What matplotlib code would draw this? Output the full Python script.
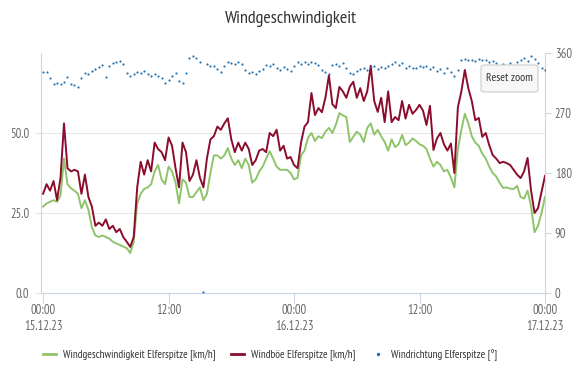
import numpy as np
import matplotlib
matplotlib.use("Agg")
import matplotlib.pyplot as plt
from matplotlib.lines import Line2D
from matplotlib.patches import FancyBboxPatch

plt.rcParams['font.family'] = ['PT Sans Narrow', 'DejaVu Sans']

# 20-minute readings, 15.12.23 00:00 .. 17.12.23 00:00 (hours since start)
hours = np.arange(145) / 3.0

speed = [27, 28, 28.5, 29, 28.5, 30.5, 42, 34, 32.7, 32, 31, 26.5, 29, 26, 20.6, 18,
         17.5, 18, 17.5, 17, 16, 15.5, 15, 14.5, 14, 12.5, 16, 28, 31, 32.5, 33, 34,
         38, 40, 35.5, 34, 39.5, 38, 34.5, 28, 35.5, 34.5, 30, 30, 31.5, 33, 29, 31,
         37.5, 43, 43, 42, 43, 45.3, 42, 40, 41.5, 39, 42, 40, 34.5, 35.5, 38, 39.5,
         42, 44.3, 42, 39.5, 38.5, 38.5, 38.5, 37.5, 35.5, 36, 43, 44.5, 48.5, 50, 47.5, 49,
         48.4, 50.4, 51.6, 50, 52.6, 56.2, 55.5, 55, 47.2, 48.8, 50.4, 49.5, 47.2, 51.6, 53, 49.5,
         51, 49, 47.2, 44.5, 48, 45.6, 46.5, 49.4, 46.2, 47, 48.3, 47.5, 46.5, 46, 45, 42,
         39.5, 41, 40, 38, 38.5, 36, 33, 45, 51, 56, 53, 49, 47, 46, 43.5, 42,
         39.5, 37.5, 36.4, 34.4, 32.8, 33, 32.6, 32.5, 33.5, 30, 29.5, 32, 27, 19, 21, 25,
         30]

gust = [31, 34, 32, 35, 29, 36, 53, 39, 38, 38.5, 38, 31, 37, 30, 27, 21,
        22, 21, 23, 20, 21, 19, 20, 17.5, 16, 14.4, 17.5, 33, 41, 37, 41.5, 38,
        47, 45, 44, 41.5, 48.6, 46, 39, 33, 47, 44, 35, 37, 41.5, 36, 33, 42,
        48, 49, 52, 51, 53, 54.6, 48, 44, 47, 44.5, 47, 45, 40, 41.5, 44.5, 45,
        44, 50, 49, 51, 44.5, 46, 42, 42.5, 40, 39, 47, 52, 53.4, 62.5, 55.6, 57.8,
        56.5, 61, 68, 59, 57.8, 64.4, 63, 61, 64.5, 66, 61, 64, 60, 63, 71, 60,
        56.6, 61, 53.4, 63, 53.4, 55, 54, 60, 54.5, 58.8, 56, 57.2, 58.8, 57, 52.5, 58.5,
        44.7, 48.3, 50, 46.5, 44.5, 46.7, 37.5, 58, 63, 69.7, 64, 60, 54, 54.7, 48.8, 50,
        46.2, 43.1, 42, 40.6, 41, 40.6, 40, 38.5, 37, 35.9, 38, 42.2, 32, 25, 26.5, 31.5,
        36.6]

direction = [331, 332, 322, 313, 315, 314, 316, 324, 314, 312, 309, 322, 330, 329, 333, 336,
             339, 342, 324, 341, 345, 347, 348, 344, 330, 326, 329, 332, 330, 333, 328, 326,
             329, 326, 322, 315, 320, 326, 330, 318, 315, 330, 352, 355, 352, 346, 2, 343,
             341, 340, 336, 331, 340, 347, 345, 344, 347, 343, 335, 330, 332, 329, 333, 336,
             342, 340, 343, 338, 334, 339, 336, 333, 340, 347, 344, 346, 343, 347, 345, 342,
             335, 332, 329, 342, 344, 341, 345, 338, 330, 328, 333, 336, 338, 334, 339, 341,
             336, 339, 337, 341, 344, 346, 342, 345, 338, 340, 338, 337, 340, 339, 341, 336,
             339, 333, 336, 330, 337, 332, 325, 335, 350, 351, 349, 350, 348, 351, 349, 350,
             347, 348, 345, 340, 343, 341, 345, 339, 347, 350, 353, 348, 355, 351, 345, 338,
             334]

xticks = [0, 12, 24, 36, 48]
xlabels = ["00:00\n15.12.23", "12:00", "00:00\n16.12.23", "12:00", "00:00\n17.12.23"]

green = "#8fc46a"
red = "#8b0c2c"
blue = "#2c74b0"
axis_col = "#ccd6eb"
grid_col = "#e6e6e6"
label_col = "#666666"

fig = plt.figure(figsize=(5.76, 3.72), dpi=100)
ax = fig.add_axes([41 / 576, 1 - 293 / 372, 504 / 576, 240 / 372])

ax.plot(hours, speed, color=green, lw=1.4, zorder=3)
ax.plot(hours, gust, color=red, lw=1.4, zorder=4)
ax.set_xlim(-0.2, 48)
ax.set_ylim(0, 75)
ax.set_yticks([0, 25, 50])
ax.set_yticklabels(["0.0", "25.0", "50.0"])
ax.grid(axis="y", color=grid_col, lw=0.8)
ax.set_axisbelow(True)
ax.set_xticks(xticks)
ax.set_xticklabels(xlabels, linespacing=1.25)

ax.spines["top"].set_visible(False)
ax.spines["right"].set_visible(False)
ax.spines["left"].set_color(axis_col)
ax.spines["bottom"].set_color(axis_col)
ax.tick_params(axis="y", length=4.3, color=grid_col, pad=4, labelsize=9, labelcolor=label_col)
ax.tick_params(axis="x", length=7, color=axis_col, pad=1, labelsize=9, labelcolor=label_col)

ax2 = ax.twinx()
ax2.scatter(hours, direction, s=2.5, color=blue, linewidths=0, zorder=5)
ax2.set_ylim(0, 360)
ax2.set_yticks([0, 90, 180, 270, 360])
ax2.tick_params(axis="y", length=4, color=axis_col, pad=3, labelsize=9, labelcolor=label_col)
for s in ["top", "left", "bottom"]:
    ax2.spines[s].set_visible(False)
ax2.spines["right"].set_color(axis_col)

fig.text(0.505, 1 - 19 / 372, "Windgeschwindigkeit", ha="center", va="center",
         fontsize=13, color="#333333")

# reset zoom button
btn = FancyBboxPatch((481 / 576, 1 - 92 / 372), 57 / 576, 27 / 372,
                     boxstyle="round,pad=0,rounding_size=0.006",
                     transform=fig.transFigure, facecolor="#f7f7f7",
                     edgecolor="#cccccc", lw=0.8, zorder=10)
fig.patches.append(btn)
fig.text(509.5 / 576, 1 - 78 / 372, "Reset zoom", ha="center", va="center",
         fontsize=8.5, color="#333333", zorder=11)

handles = [
    Line2D([], [], color=green, lw=2),
    Line2D([], [], color=red, lw=2),
    Line2D([], [], color=blue, marker=".", markersize=3, linestyle="none"),
]
labels = ["Windgeschwindigkeit Elferspitze [km/h]", "Windböe Elferspitze [km/h]",
          "Windrichtung Elferspitze [°]"]
fig.legend(handles, labels, loc="center", bbox_to_anchor=(0.469, 1 - 355 / 372),
           ncol=3, frameon=False, fontsize=8, handlelength=1.15, handletextpad=0.6,
           columnspacing=1.45, labelcolor="#333333")

fig.savefig("out.png", dpi=100)
